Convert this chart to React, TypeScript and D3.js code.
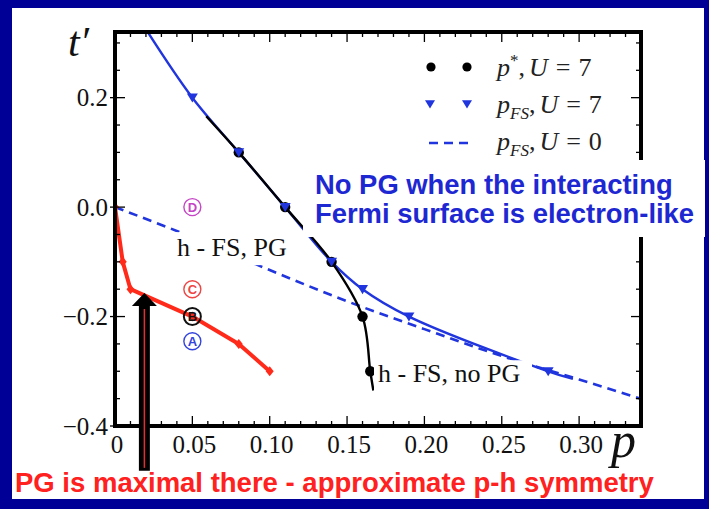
import React from "react";
import * as d3 from "d3";

const W = 709;
const H = 509;

// ---- data ----
// p*, U=7 (black circles + line)
const pStarP = [0.08, 0.11, 0.14, 0.16, 0.165];
const pStarT = [0.1, 0.0, -0.1, -0.2, -0.3];
const pStarLineP = [0.059, 0.08, 0.11, 0.14, 0.16, 0.165, 0.167];
const pStarLineT = [0.166, 0.1, 0.0, -0.1, -0.2, -0.3, -0.335];
// p_FS, U=7 (blue triangles + line)
const pFsP = [0.05, 0.08, 0.11, 0.14, 0.16, 0.19, 0.28];
const pFsT = [0.2, 0.1, 0.0, -0.1, -0.15, -0.2, -0.3];
const pFsLineP = [0.02, 0.05, 0.08, 0.11, 0.14, 0.16, 0.19, 0.28, 0.296];
const pFsLineT = [0.325, 0.2, 0.1, 0.0, -0.1, -0.15, -0.2, -0.3, -0.314];
// p_FS, U=0 (blue dashed)
const pFs0P = [0, 0.05, 0.1, 0.15, 0.2, 0.25, 0.3, 0.345];
const pFs0T = [0, -0.055, -0.115, -0.172, -0.223, -0.272, -0.315, -0.355];
// red PG line
const redP = [0, 0.005, 0.01, 0.05, 0.08, 0.1];
const redT = [0, -0.1, -0.15, -0.2, -0.25, -0.3];

// ticks
const xTickLabels = ["0", "0.05", "0.10", "0.15", "0.20", "0.25", "0.30"];
const xTickValues = [0, 0.05, 0.1, 0.15, 0.2, 0.25, 0.3];
const yTickLabels = ["0.2", "0.0", "\u22120.2", "\u22120.4"];
const yTickValues = [0.2, 0.0, -0.2, -0.4];

// circled region labels
const regionLetters = ["D", "C", "B", "A"];
const regionP = [0.05, 0.05, 0.05, 0.05];
const regionT = [0.0, -0.15, -0.2, -0.245];
const regionColors = ["#c545c5", "#ee4444", "#111111", "#3344dd"];

const BLUE = "#2035dd";
const RED = "#ff2a1a";

export default function App() {
  const x = d3.scaleLinear().domain([0, 0.34]).range([115, 641]);
  const y = d3.scaleLinear().domain([-0.4, 0.32]).range([426, 32]);
  const [x0, x1] = x.range();
  const [yb, yt] = y.range();

  const toPts = (ps: number[], ts: number[]) => ps.map((p, i) => [p, ts[i]] as [number, number]);
  const smooth = d3
    .line<[number, number]>()
    .x((d) => x(d[0]))
    .y((d) => y(d[1]))
    .curve(d3.curveCatmullRom.alpha(0.5));
  const straight = d3
    .line<[number, number]>()
    .x((d) => x(d[0]))
    .y((d) => y(d[1]));
  const mono = d3
    .line<[number, number]>()
    .x((d) => x(d[0]))
    .y((d) => y(d[1]))
    .curve(d3.curveMonotoneX);

  const xMinor = d3.range(0, 35).map((i) => i / 100).filter((v) => v <= 0.3401);
  const yMinor = d3.range(-8, 7).map((i) => i * 0.05);

  const tri = (cx: number, cy: number, s: number) =>
    `M${cx - s},${cy - s * 0.75}L${cx + s},${cy - s * 0.75}L${cx},${cy + s * 0.9}Z`;
  const diamond = (cx: number, cy: number, s: number) =>
    `M${cx},${cy - s}L${cx + s * 0.8},${cy}L${cx},${cy + s}L${cx - s * 0.8},${cy}Z`;

  const serif = "'Liberation Serif', 'Times New Roman', serif";
  const sans = "'Liberation Sans', Arial, sans-serif";

  // annotation anchors (data coords)
  const a1x = x(0.04), a1y = y(-0.0896);
  const a2x = x(0.17), a2y = y(-0.32);
  const arrX = x(0.019);
  const arrTip = y(-0.157);
  const arrBot = y(-0.482);

  const legendRow = (yy: number, sub: string | null, val: string) => (
    <text x={497} y={yy}>
      <tspan fontStyle="italic">p</tspan>
      {sub === null ? (
        <tspan dy={-10} fontSize={17}>*</tspan>
      ) : (
        <tspan dy={6} fontSize={17} fontStyle="italic">{sub}</tspan>
      )}
      <tspan dy={sub === null ? 10 : -6}>,</tspan>
      <tspan dx={4} fontStyle="italic">U</tspan>
      <tspan dx={8}>=</tspan>
      <tspan dx={8}>{val}</tspan>
    </text>
  );

  return (
    <svg
      width={W}
      height={H}
      style={{ position: "absolute", left: 0, top: 0, display: "block" }}
      xmlns="http://www.w3.org/2000/svg"
    >
      <defs>
        <clipPath id="plotclip">
          <rect x={x0} y={yt} width={x1 - x0} height={yb - yt} />
        </clipPath>
      </defs>
      <rect x={0} y={0} width={W} height={H} fill="#000096" />
      <rect x={12} y={8} width={692} height={491} fill="#ffffff" />

      {/* data */}
      <g clipPath="url(#plotclip)">
        <path d={mono(toPts(pFs0P, pFs0T)) || ""} fill="none" stroke={BLUE} strokeWidth={2.6} strokeDasharray="9 6" />
        <path d={smooth(toPts(pFsLineP, pFsLineT)) || ""} fill="none" stroke={BLUE} strokeWidth={2.4} />
        <path d={smooth(toPts(pStarLineP, pStarLineT)) || ""} fill="none" stroke="#000" strokeWidth={2.4} />
        <path d={straight(toPts(redP, redT)) || ""} fill="none" stroke={RED} strokeWidth={4} strokeLinejoin="round" />
        {redP.map((p, i) => (
          <path key={"r" + i} d={diamond(x(p), y(redT[i]), 5)} fill={RED} />
        ))}
        {pStarP.map((p, i) => (
          <circle key={"c" + i} cx={x(p)} cy={y(pStarT[i])} r={5.2} fill="#000" />
        ))}
        {pFsP.map((p, i) => (
          <path key={"t" + i} d={tri(x(p), y(pFsT[i]), 5.5)} fill={BLUE} />
        ))}
      </g>

      {/* ticks */}
      <g stroke="#000" strokeWidth={1.3}>
        {xMinor.map((v, i) => {
          const major = Math.abs(v / 0.05 - Math.round(v / 0.05)) < 1e-6;
          const L = major ? 10 : 5;
          return (
            <g key={"xt" + i}>
              <line x1={x(v)} x2={x(v)} y1={yb} y2={yb - L} />
              <line x1={x(v)} x2={x(v)} y1={yt} y2={yt + L} />
            </g>
          );
        })}
        {yMinor.map((v, i) => {
          const major = Math.abs(v / 0.2 - Math.round(v / 0.2)) < 1e-6;
          const L = major ? 10 : 5;
          return (
            <g key={"yt" + i}>
              <line x1={x0 - (major ? 5 : 0)} x2={x0 + L} y1={y(v)} y2={y(v)} />
              <line x1={x1} x2={x1 - L} y1={y(v)} y2={y(v)} />
            </g>
          );
        })}
      </g>
      <rect x={x0} y={yt} width={x1 - x0} height={yb - yt} fill="none" stroke="#000" strokeWidth={4} />

      {/* tick labels */}
      <g fontFamily={serif} fontSize={25} fill="#111">
        {xTickValues.map((v, i) => (
          <text key={"xl" + i} x={x(v) + 2} y={453} textAnchor="middle">
            {xTickLabels[i]}
          </text>
        ))}
        {yTickValues.map((v, i) => (
          <text key={"yl" + i} x={108} y={y(v) + 8.5} textAnchor="end">
            {yTickLabels[i]}
          </text>
        ))}
      </g>

      {/* axis labels */}
      <text x={68} y={56} fontFamily={serif} fontStyle="italic" fontSize={42} fill="#111">
        t′
      </text>
      <text x={611} y={457} fontFamily={serif} fontStyle="italic" fontSize={50} fill="#111">
        p
      </text>

      {/* legend */}
      <g>
        <circle cx={431} cy={67} r={4.6} fill="#000" />
        <circle cx={467} cy={67} r={4.6} fill="#000" />
        <path d={tri(430, 104, 5)} fill={BLUE} />
        <path d={tri(467, 104, 5)} fill={BLUE} />
        <line x1={429} x2={469} y1={143} y2={143} stroke={BLUE} strokeWidth={2.6} strokeDasharray="9 6" />
        <g fontFamily={serif} fontSize={26} fill="#222">
          {legendRow(76, null, "7")}
          {legendRow(113, "FS", "7")}
          {legendRow(150, "FS", "0")}
        </g>
      </g>

      {/* circled letters */}
      {regionLetters.map((L, i) => (
        <g key={"reg" + i}>
          <circle
            cx={x(regionP[i])}
            cy={y(regionT[i])}
            r={8.5}
            fill="none"
            stroke={regionColors[i]}
            strokeWidth={i === 2 ? 2 : 1.4}
          />
          <text
            x={x(regionP[i])}
            y={y(regionT[i]) + 4.8}
            textAnchor="middle"
            fontFamily={sans}
            fontWeight="bold"
            fontSize={13}
            fill={regionColors[i]}
          >
            {L}
          </text>
        </g>
      ))}

      {/* in-plot annotations with white boxes */}
      <rect x={a1x - 5} y={a1y - 24} width={125} height={33} fill="#fff" />
      <text x={a1x} y={a1y} fontFamily={serif} fontSize={26} fill="#111">
        h - FS, PG
      </text>
      <rect x={a2x - 4} y={a2y - 22} width={158} height={32} fill="#fff" />
      <text x={a2x} y={a2y} fontFamily={serif} fontSize={26} fill="#111">
        h - FS, no PG
      </text>

      {/* slide overlay text */}
      <rect x={303} y={160} width={402} height={77} fill="#fff" />
      <g fontFamily={sans} fontWeight="bold" fontSize={27.4} fill="#1e28d2">
        <text x={315} y={194}>No PG when the interacting</text>
        <text x={315} y={223}>Fermi surface is electron-like</text>
      </g>

      {/* arrow */}
      <path
        d={`M${arrX},${arrTip} L${arrX + 12.5},${arrTip + 13} L${arrX + 5.5},${arrTip + 13} L${arrX + 5.5},${arrBot} L${arrX - 5.5},${arrBot} L${arrX - 5.5},${arrTip + 13} L${arrX - 12.5},${arrTip + 13} Z`}
        fill="#000"
      />
      <line x1={arrX} x2={arrX} y1={arrTip + 16} y2={arrBot - 3} stroke="#e03030" strokeWidth={1.5} />

      <text x={15} y={492} fontFamily={sans} fontWeight="bold" fontSize={27.5} fill="#ff2020">
        PG is maximal there - approximate p-h symmetry
      </text>
    </svg>
  );
}
